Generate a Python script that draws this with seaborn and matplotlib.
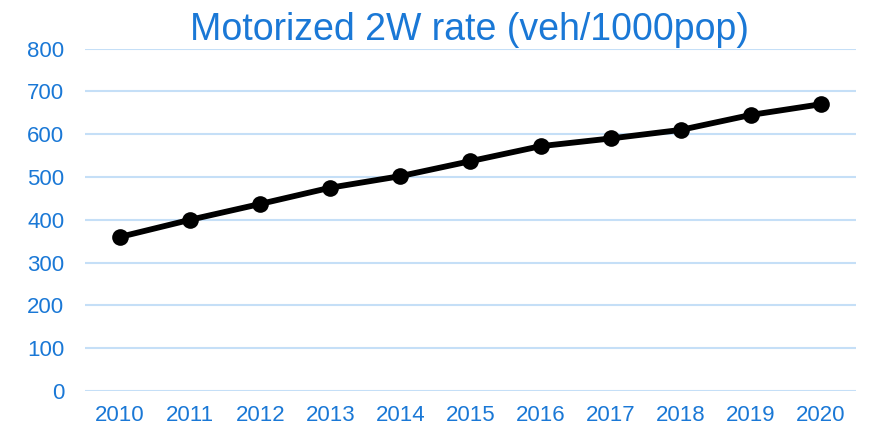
import matplotlib
matplotlib.use("Agg")
import matplotlib.pyplot as plt
import seaborn as sns
import pandas as pd

years = [2010, 2011, 2012, 2013, 2014, 2015, 2016, 2017, 2018, 2019, 2020]
rate = [360, 400, 437, 475, 502, 537, 572, 590, 610, 645, 670]
title = "Motorized 2W rate (veh/1000pop)"
yticks = [0, 100, 200, 300, 400, 500, 600, 700, 800]

sns.set_theme(style="white")
plt.rcParams['font.family'] = ['Liberation Sans', 'DejaVu Sans']

blue = "#1a78d6"
grid = "#c5dff7"

df = pd.DataFrame({"year": years, "rate": rate})
fig = plt.figure(figsize=(8.87, 4.30), dpi=100)
ax = fig.add_axes([0.0958, 0.0907, 0.965 - 0.0958, 0.887 - 0.0907])

sns.lineplot(data=df, x="year", y="rate", ax=ax, color="black", linewidth=4.2,
             marker="o", markersize=12, markeredgewidth=0, zorder=3)

ax.set_xlim(years[0] - 0.5, years[-1] + 0.5)
ax.set_ylim(0, 800)
ax.set_yticks(yticks)
ax.set_xticks(years)
ax.set_xticklabels([str(y) for y in years])
for y in yticks:
    ax.axhline(y, color=grid, linewidth=1.5, zorder=1)
for s in ax.spines.values():
    s.set_visible(False)
ax.tick_params(axis="both", length=0, labelsize=16, labelcolor=blue)
ax.tick_params(axis="y", pad=15)
ax.tick_params(axis="x", pad=10)
ax.set_xlabel("")
ax.set_ylabel("")
fig.text(0.529, 0.93, title, ha="center", va="center", fontsize=27, color=blue)

fig.savefig("out.png", dpi=100)
